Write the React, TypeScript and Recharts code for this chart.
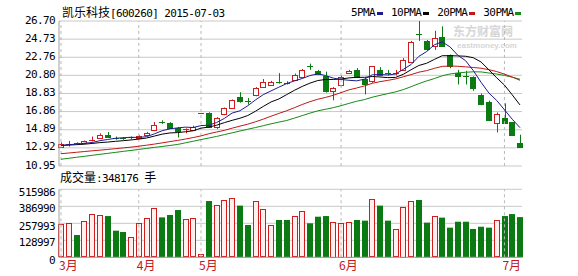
import React from "react";
import { ComposedChart, Bar, Line, XAxis, YAxis, CartesianGrid, ReferenceLine } from "recharts";

// trading days shown (stock was suspended part of April)
const dates = [
  "03-18", "03-19", "03-20", "03-23", "03-24", "03-25", "03-26", "03-27", "03-30", "03-31",
  "04-01", "04-02", "04-03", "04-07", "04-08", "04-09", "04-10", "04-13",
  "05-06", "05-07", "05-08", "05-11", "05-12", "05-13", "05-14", "05-15", "05-18", "05-19", "05-20",
  "05-21", "05-22", "05-25", "05-26", "05-27", "05-28", "05-29",
  "06-01", "06-02", "06-03", "06-04", "06-05", "06-08", "06-09", "06-10", "06-11", "06-12", "06-15",
  "06-16", "06-17", "06-18", "06-19", "06-23", "06-24", "06-25", "06-26", "06-29", "06-30",
  "07-01", "07-02", "07-03",
];

const open = [
  13.07, 13.32, 13.42, 13.42, 13.75, 14.05, 14.35, 14.0, 14.0, 13.95,
  14.0, 14.3, 14.88, 15.71, 15.63, 15.08, 14.83, 14.93, 16.75, 16.75,
  15.13, 16.61, 17.25, 18.43, 18.03, 18.62, 19.6, 19.8, 20.05, 20.0,
  20.3, 20.6, 21.77, 21.24, 20.69, 19.07, 19.72, 21.09, 21.39, 20.45,
  20.15, 21.39, 21.09, 21.04, 21.39, 22.32, 25.33, 24.49, 24.0, 24.94,
  23.01, 21.04, 20.74, 20.64, 18.63, 17.95, 15.58, 16.16, 15.68, 13.42,
];
const high = [
  13.52, 13.67, 13.52, 13.72, 14.15, 14.5, 14.65, 14.15, 14.1, 14.15,
  14.3, 14.65, 15.73, 15.91, 15.71, 15.18, 15.03, 15.33, 16.75, 16.78,
  16.26, 17.3, 18.18, 18.97, 18.33, 19.52, 20.4, 20.2, 21.04, 20.15,
  20.99, 21.49, 22.07, 21.39, 21.19, 19.52, 20.79, 21.39, 21.58, 20.55,
  21.82, 21.68, 21.39, 21.39, 22.67, 24.54, 26.7, 24.64, 25.63, 26.12,
  23.06, 21.39, 21.29, 20.69, 18.83, 18.05, 16.76, 17.75, 15.73, 14.35,
];
const low = [
  12.97, 13.07, 13.22, 13.32, 13.62, 13.95, 14.05, 13.8, 13.8, 13.85,
  13.9, 14.2, 14.73, 15.53, 15.03, 14.05, 14.5, 14.78, 16.75, 15.23,
  14.98, 16.46, 17.15, 17.83, 17.63, 18.52, 19.52, 19.7, 19.9, 19.8,
  20.2, 20.5, 21.39, 20.84, 18.92, 18.08, 19.6, 21.04, 20.5, 18.72,
  20.0, 20.69, 20.79, 20.79, 21.29, 22.27, 24.54, 23.46, 23.56, 23.96,
  21.57, 19.8, 19.8, 19.12, 17.55, 15.98, 14.6, 15.58, 14.25, 12.92,
];
const close = [
  13.37, 13.37, 13.32, 13.62, 13.8, 14.35, 14.1, 13.95, 13.92, 14.05,
  14.25, 14.55, 15.43, 15.68, 15.08, 14.73, 14.93, 15.23, 16.75, 15.28,
  16.16, 17.25, 18.08, 17.98, 17.93, 19.42, 20.1, 20.1, 19.95, 19.95,
  20.84, 21.39, 21.72, 20.89, 19.07, 19.42, 20.64, 21.29, 20.6, 19.95,
  21.77, 20.84, 21.04, 21.09, 22.47, 24.44, 25.28, 23.6, 24.84, 24.0,
  21.77, 20.69, 20.64, 19.42, 17.65, 16.03, 16.61, 15.63, 14.3, 12.97,
];

const volume = [
  252700, 258000, 169000, 273000, 326000, 321000, 313000, 202000, 192000, 152000,
  258000, 296000, 372000, 303000, 321000, 359000, 288000, 296000, 25000, 427000,
  397000, 435000, 448000, 392000, 245000, 425000, 364000, 245000, 283000, 283000,
  313000, 351000, 258000, 308000, 313000, 270000, 263000, 270000, 283000, 278000,
  442000, 392000, 278000, 215000, 384000, 427000, 435000, 263000, 313000, 301000,
  225000, 270000, 270000, 215000, 232000, 225000, 283000, 313000, 328000, 305000,
];

const ma5 = [
  13.18, 13.27, 13.32, 13.42, 13.5, 13.7, 13.83, 13.96, 14.02, 14.07,
  14.05, 14.14, 14.44, 14.78, 14.99, 15.09, 15.17, 15.13, 15.34, 15.38,
  15.67, 16.12, 16.7, 16.95, 17.49, 18.13, 18.7, 19.11, 19.51, 19.9,
  20.19, 20.45, 20.77, 20.96, 20.78, 20.5, 20.35, 20.26, 20.2, 20.38,
  20.85, 20.89, 20.84, 20.94, 21.45, 21.97, 22.86, 23.38, 24.12, 24.43,
  23.89, 22.98, 22.39, 21.31, 20.03, 18.88, 18.07, 17.06, 16.03, 15.11,
];
const ma10 = [
  13.17, 13.22, 13.27, 13.32, 13.4, 13.49, 13.55, 13.63, 13.7, 13.78,
  13.87, 13.99, 14.2, 14.41, 14.54, 14.58, 14.67, 14.78, 15.06, 15.18,
  15.38, 15.66, 15.91, 16.14, 16.43, 16.9, 17.42, 17.91, 18.23, 18.7,
  19.17, 19.59, 19.95, 20.23, 20.35, 20.35, 20.4, 20.52, 20.58, 20.58,
  20.67, 20.62, 20.55, 20.57, 20.91, 21.41, 21.87, 22.11, 22.53, 22.93,
  22.93, 22.91, 22.87, 22.71, 22.24, 21.4, 20.53, 19.74, 18.68, 17.58,
];
const ma20 = [
  12.29, 12.36, 12.44, 12.52, 12.6, 12.67, 12.75, 12.83, 12.92, 13.0,
  13.1, 13.21, 13.33, 13.46, 13.6, 13.73, 13.88, 14.04, 14.22, 14.45,
  14.64, 14.82, 15.06, 15.28, 15.49, 15.75, 16.04, 16.36, 16.66, 16.95,
  17.28, 17.63, 17.94, 18.2, 18.4, 18.63, 18.92, 19.22, 19.42, 19.65,
  19.93, 20.11, 20.25, 20.41, 20.64, 20.88, 21.14, 21.31, 21.56, 21.77,
  21.81, 21.78, 21.72, 21.65, 21.57, 21.41, 21.21, 20.93, 20.61, 20.26,
];
const ma30 = [
  11.68, 11.79, 11.9, 12.0, 12.11, 12.22, 12.32, 12.43, 12.54, 12.64,
  12.75, 12.86, 12.97, 13.07, 13.18, 13.29, 13.47, 13.64, 13.82, 13.99,
  14.16, 14.36, 14.55, 14.75, 14.94, 15.13, 15.33, 15.53, 15.72, 15.89,
  16.15, 16.42, 16.69, 16.94, 17.11, 17.29, 17.5, 17.75, 17.98, 18.16,
  18.42, 18.62, 18.81, 19.0, 19.25, 19.56, 19.9, 20.19, 20.45, 20.75,
  20.94, 21.06, 21.13, 21.18, 21.17, 21.05, 20.94, 20.79, 20.6, 20.37,
];

const priceTicks = [10.95, 12.92, 14.89, 16.86, 18.83, 20.8, 22.76, 24.73, 26.7];
const volumeTicks = [0, 128997, 257993, 386990, 515986];
const monthTicks = ["03-18", "04-01", "05-06", "06-01", "07-01"];
const monthLabels = ["3月", "4月", "5月", "6月", "7月"];

const UP = "#d01c1c";
const DOWN = "#0c7a12";
const GRID = "#c8c8c8";
const FRAME = "#a0a0a0";
const MONO = "'DejaVu Sans Mono', monospace";
const CJK = "'Noto Sans CJK SC', sans-serif";

const rows = dates.map((date, i) => ({
  date,
  open: open[i],
  high: high[i],
  low: low[i],
  close: close[i],
  range: [low[i], high[i]],
  volume: volume[i],
  ma5: ma5[i],
  ma10: ma10[i],
  ma20: ma20[i],
  ma30: ma30[i],
}));

function Candle(props: any) {
  const { x, y, width, height, payload } = props;
  const up = payload.close >= payload.open;
  const color = up ? UP : DOWN;
  const cx = Math.round(x + width / 2) + 0.5;
  const span = payload.high - payload.low;
  const k = span > 0 ? height / span : 0;
  const yOf = (v: number) => y + (payload.high - v) * k;
  const top = yOf(Math.max(payload.open, payload.close));
  const bot = yOf(Math.min(payload.open, payload.close));
  const bx = Math.round(x) + 0.5;
  const bw = Math.round(width) - 1;
  if (bot - top < 1.5) {
    return (
      <g>
        <line x1={cx} x2={cx} y1={y} y2={y + height} stroke={color} />
        <line x1={bx - 0.5} x2={bx + bw + 0.5} y1={Math.round(top) + 0.5} y2={Math.round(top) + 0.5} stroke={color} />
      </g>
    );
  }
  return (
    <g>
      <line x1={cx} x2={cx} y1={y} y2={y + height} stroke={color} />
      <rect
        x={bx}
        y={Math.round(top) + 0.5}
        width={bw}
        height={Math.round(bot - top)}
        fill={up ? "#ffffff" : DOWN}
        stroke={color}
      />
    </g>
  );
}

function VolumeBar(props: any) {
  const { x, y, width, height, payload } = props;
  const up = payload.close >= payload.open;
  const bx = Math.round(x);
  const bw = Math.round(width);
  if (up) {
    return (
      <rect x={bx + 0.5} y={Math.round(y) + 0.5} width={bw - 1} height={Math.max(Math.round(height) - 1, 0)} fill="#fff0f0" stroke={UP} />
    );
  }
  return <rect x={bx} y={y} width={bw} height={height} fill={DOWN} />;
}

function PriceTick(props: any) {
  const { x, y, payload } = props;
  return (
    <text x={x} y={y} dy={-1} textAnchor="end" dominantBaseline="central" fontFamily={MONO} fontSize={11} letterSpacing={-0.6} fill="#000">
      {payload.value.toFixed(2)}
    </text>
  );
}

function VolumeTick(props: any) {
  const { x, y, payload } = props;
  return (
    <text x={x} y={y} dy={2.7} textAnchor="end" dominantBaseline="central" fontFamily={MONO} fontSize={11} letterSpacing={-0.6} fill="#000">
      {String(payload.value)}
    </text>
  );
}

function MonthTick(props: any) {
  const { x, y, payload } = props;
  const label = monthLabels[monthTicks.indexOf(payload.value)];
  return (
    <text x={x - 2} y={y} dy="0.75em" textAnchor="start" fontFamily={CJK} fontSize={12} fill="#c01818">
      {label}
    </text>
  );
}

const legend = [
  { name: "5PMA", color: "#1c1c8f" },
  { name: "10PMA", color: "#000000" },
  { name: "20PMA", color: "#c01818" },
  { name: "30PMA", color: "#168a16" },
];

const xPad = { left: -1.9, right: -1.9 };

export default function App() {
  return (
    <div style={{ position: "absolute", left: 0, top: 0, width: 578, height: 276, background: "#fff", overflow: "hidden" }}>
      <div style={{ position: "absolute", left: 62, top: 4, fontSize: 12, lineHeight: "16px", whiteSpace: "nowrap" }}>
        <span style={{ fontFamily: CJK }}>凯乐科技</span>
        <span style={{ fontFamily: MONO, fontSize: 11, letterSpacing: -0.6 }}>[600260] 2015-07-03</span>
      </div>
      <div style={{ position: "absolute", left: 351, top: 6, display: "flex", alignItems: "center", fontFamily: MONO, fontSize: 11, letterSpacing: -0.6, lineHeight: "14px", whiteSpace: "nowrap" }}>
        {legend.map((l) => (
          <span key={l.name} style={{ display: "flex", alignItems: "center", marginRight: 8 }}>
            {l.name}
            <span style={{ display: "inline-block", width: 6, height: 3, background: l.color, marginLeft: 2 }} />
          </span>
        ))}
      </div>
      {/* faint watermark */}
      <div style={{ position: "absolute", left: 453, top: 24, color: "#d6d6d6", whiteSpace: "nowrap", fontFamily: CJK, fontSize: 12, fontWeight: 700, lineHeight: "14px" }}>
        东方财富网
      </div>
      <div style={{ position: "absolute", left: 457, top: 42, color: "#d6d6d6", whiteSpace: "nowrap", fontFamily: "Arial, 'Liberation Sans', sans-serif", fontSize: 8, fontWeight: 700, lineHeight: "8px" }}>
        eastmoney.com
      </div>
      <div style={{ position: "absolute", left: 0, top: 0 }}>
        <ComposedChart width={578} height={170} data={rows} margin={{ top: 21, right: 56, bottom: 4, left: 0 }}>
          <CartesianGrid vertical={false} stroke={GRID} />
          <XAxis dataKey="date" hide padding={xPad} />
          <YAxis domain={[10.95, 26.7]} ticks={priceTicks} interval={0} width={59} tickSize={2} tickLine={false} axisLine={{ stroke: FRAME }} tick={<PriceTick />} />
          <YAxis yAxisId="right" orientation="right" width={0} domain={[0, 1]} tick={false} tickLine={false} axisLine={{ stroke: FRAME }} />
          {monthTicks.map((d) => (
            <ReferenceLine key={d} x={d} stroke="#b8b8b8" strokeDasharray="3 3" />
          ))}
          <Bar dataKey="range" shape={<Candle />} barSize={6} isAnimationActive={false} />
          <Line type="linear" dataKey="ma30" stroke="#168a16" strokeWidth={1} dot={false} isAnimationActive={false} />
          <Line type="linear" dataKey="ma20" stroke="#c01818" strokeWidth={1} dot={false} isAnimationActive={false} />
          <Line type="linear" dataKey="ma10" stroke="#000000" strokeWidth={1} dot={false} isAnimationActive={false} />
          <Line type="linear" dataKey="ma5" stroke="#1c1c8f" strokeWidth={1} dot={false} isAnimationActive={false} />
        </ComposedChart>
      </div>
      <div style={{ position: "absolute", left: 60, top: 170, fontSize: 12, lineHeight: "14px", whiteSpace: "nowrap" }}>
        <span style={{ fontFamily: CJK }}>成交量</span>
        <span style={{ fontFamily: MONO, fontSize: 11, letterSpacing: -0.6 }}>:348176 </span>
        <span style={{ fontFamily: CJK }}>手</span>
      </div>
      <div style={{ position: "absolute", left: 0, top: 170 }}>
        <ComposedChart width={578} height={106} data={rows} margin={{ top: 19.3, right: 56, bottom: 0, left: 0 }}>
          <CartesianGrid vertical={false} stroke={GRID} />
          <XAxis dataKey="date" ticks={monthTicks} interval={0} height={18.7} padding={xPad} tickSize={2} tickLine={false} axisLine={{ stroke: FRAME }} tick={<MonthTick />} />
          <YAxis domain={[0, 515986]} ticks={volumeTicks} interval={0} width={59} tickSize={2} tickLine={false} axisLine={{ stroke: FRAME }} tick={<VolumeTick />} />
          <YAxis yAxisId="right" orientation="right" width={0} domain={[0, 1]} tick={false} tickLine={false} axisLine={{ stroke: FRAME }} />
          {monthTicks.map((d) => (
            <ReferenceLine key={d} x={d} stroke="#b8b8b8" strokeDasharray="3 3" />
          ))}
          <Bar dataKey="volume" shape={<VolumeBar />} barSize={6} isAnimationActive={false} />
        </ComposedChart>
      </div>
    </div>
  );
}
